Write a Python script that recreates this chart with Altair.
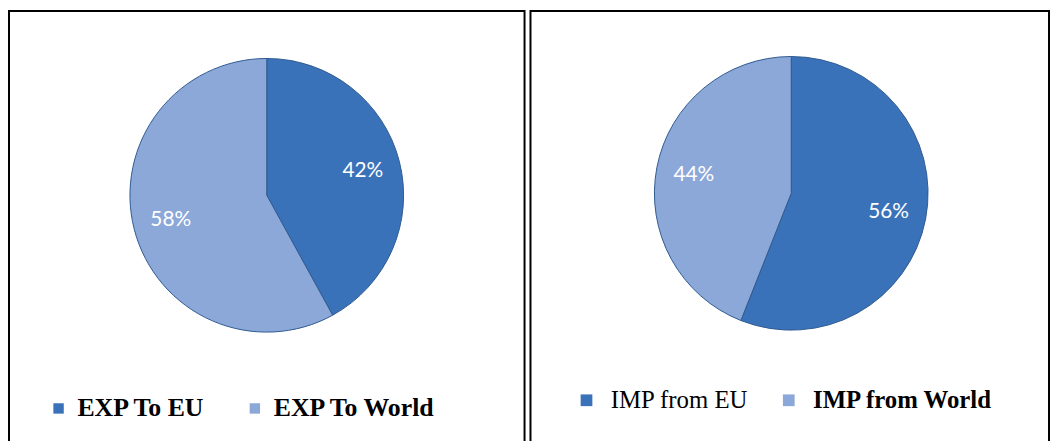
import altair as alt
import pandas as pd

exp_labels = ["EXP To EU", "EXP  To World"]
exp_values = [42, 58]
imp_labels = ["IMP from EU", "IMP from World"]
imp_values = [56, 44]

DARK = "#3A72BA"
LIGHT = "#8CA8D8"


def panel(labels, values, width, cx, cy, lx, ly, label_weight, font_size, label_offset, col_pad, sym_size):
    df = pd.DataFrame({
        "cat": labels,
        "val": values,
        "ord": list(range(len(labels))),
        "pct": [f"{v}%" for v in values],
    })
    base = alt.Chart(df).encode(
        theta=alt.Theta("val:Q", stack=True),
        order=alt.Order("ord:Q"),
    )
    arc = base.mark_arc(outerRadius=138, stroke="#2f5a90", strokeWidth=1).encode(
        x=alt.value(cx),
        y=alt.value(cy),
        color=alt.Color(
            "cat:N",
            scale=alt.Scale(domain=labels, range=[DARK, LIGHT]),
            legend=alt.Legend(
                orient="none",
                legendX=lx,
                legendY=ly,
                direction="horizontal",
                title=None,
                symbolType="square",
                symbolSize=sym_size,
                symbolStrokeWidth=0,
                labelFont="Liberation Serif",
                labelFontSize=font_size,
                labelFontWeight=label_weight,
                labelColor="black",
                labelOffset=label_offset,
                columnPadding=col_pad,
                labelLimit=400,
                padding=0,
            ),
        ),
    )
    text = base.mark_text(radius=100, color="white", font="Lato", fontSize=21).encode(
        text="pct:N",
        x=alt.value(cx),
        y=alt.value(cy),
    )
    return alt.layer(arc, text).properties(width=width, height=440)


left = panel(exp_labels, exp_values, 520, 260, 186, 37, 388, "bold", 26, 6, 36, 110)
right = panel(
    imp_labels, imp_values, 523, 263, 184, 44, 380,
    alt.ExprRef(expr="datum.label == 'IMP from World' ? 'bold' : 'normal'"),
    25, 12, 28, 140,
)

chart = (
    alt.hconcat(left, right, spacing=4)
    .resolve_scale(color="independent")
    .properties(padding=0)
    .configure_view(stroke="black", strokeWidth=2)
)

chart.save("out.html", embed_options={"renderer": "svg", "actions": False})
